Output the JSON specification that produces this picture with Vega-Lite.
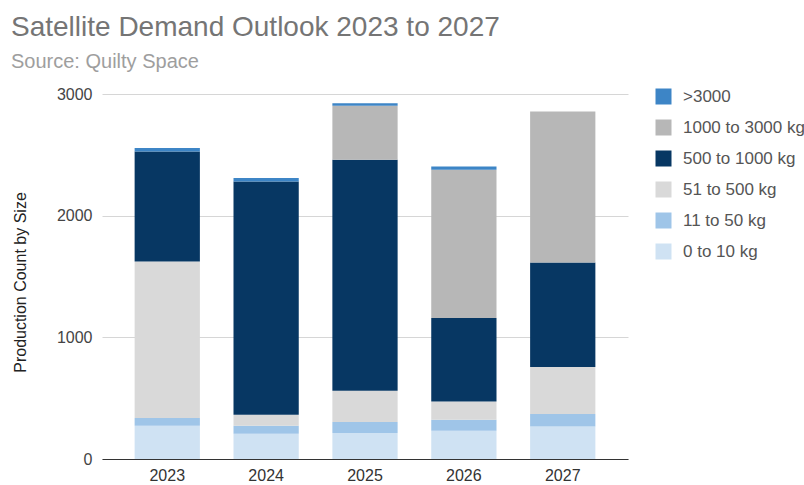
{
  "$schema": "https://vega.github.io/schema/vega-lite/v6.json",
  "autosize": "none",
  "width": 526,
  "height": 365,
  "padding": {"left": 102, "top": 94, "right": 176, "bottom": 26},
  "background": "white",
  "title": {
    "text": "Satellite Demand Outlook 2023 to 2027",
    "subtitle": "Source: Quilty Space",
    "anchor": "start",
    "frame": "group",
    "dx": -91,
    "offset": 14,
    "font": "Liberation Sans",
    "fontSize": 28,
    "fontWeight": "normal",
    "color": "#757575",
    "subtitleFont": "Liberation Sans",
    "subtitleFontSize": 20,
    "subtitleColor": "#9e9e9e",
    "subtitlePadding": 10
  },
  "data": {
    "values": [
      {"year": "2023", "size": "0 to 10 kg", "ord": 1, "count": 274},
      {"year": "2023", "size": "11 to 50 kg", "ord": 2, "count": 63},
      {"year": "2023", "size": "51 to 500 kg", "ord": 3, "count": 1287},
      {"year": "2023", "size": "500 to 1000 kg", "ord": 4, "count": 903},
      {"year": "2023", "size": "1000 to 3000 kg", "ord": 5, "count": 0},
      {"year": "2023", "size": ">3000", "ord": 6, "count": 29},
      {"year": "2024", "size": "0 to 10 kg", "ord": 1, "count": 208},
      {"year": "2024", "size": "11 to 50 kg", "ord": 2, "count": 66},
      {"year": "2024", "size": "51 to 500 kg", "ord": 3, "count": 90},
      {"year": "2024", "size": "500 to 1000 kg", "ord": 4, "count": 1917},
      {"year": "2024", "size": "1000 to 3000 kg", "ord": 5, "count": 0},
      {"year": "2024", "size": ">3000", "ord": 6, "count": 28},
      {"year": "2025", "size": "0 to 10 kg", "ord": 1, "count": 214},
      {"year": "2025", "size": "11 to 50 kg", "ord": 2, "count": 90},
      {"year": "2025", "size": "51 to 500 kg", "ord": 3, "count": 257},
      {"year": "2025", "size": "500 to 1000 kg", "ord": 4, "count": 1898},
      {"year": "2025", "size": "1000 to 3000 kg", "ord": 5, "count": 444},
      {"year": "2025", "size": ">3000", "ord": 6, "count": 22},
      {"year": "2026", "size": "0 to 10 kg", "ord": 1, "count": 233},
      {"year": "2026", "size": "11 to 50 kg", "ord": 2, "count": 90},
      {"year": "2026", "size": "51 to 500 kg", "ord": 3, "count": 150},
      {"year": "2026", "size": "500 to 1000 kg", "ord": 4, "count": 686},
      {"year": "2026", "size": "1000 to 3000 kg", "ord": 5, "count": 1218},
      {"year": "2026", "size": ">3000", "ord": 6, "count": 27},
      {"year": "2027", "size": "0 to 10 kg", "ord": 1, "count": 268},
      {"year": "2027", "size": "11 to 50 kg", "ord": 2, "count": 102},
      {"year": "2027", "size": "51 to 500 kg", "ord": 3, "count": 386},
      {"year": "2027", "size": "500 to 1000 kg", "ord": 4, "count": 859},
      {"year": "2027", "size": "1000 to 3000 kg", "ord": 5, "count": 1241},
      {"year": "2027", "size": ">3000", "ord": 6, "count": 0}
    ]
  },
  "mark": {"type": "bar"},
  "encoding": {
    "x": {
      "field": "year",
      "type": "nominal",
      "scale": {"paddingInner": 0.34, "paddingOuter": 0.33},
      "axis": {
        "title": null,
        "labelAngle": 0,
        "labelFont": "Liberation Sans",
        "labelFontSize": 16,
        "labelColor": "#333333",
        "labelPadding": 8,
        "ticks": false,
        "domainColor": "#333333",
        "domainWidth": 1,
        "grid": false
      }
    },
    "y": {
      "field": "count",
      "type": "quantitative",
      "stack": "zero",
      "scale": {"domain": [0, 3000], "nice": false},
      "axis": {
        "title": "Production Count by Size",
        "titleFont": "Liberation Sans",
        "titleFontSize": 16,
        "titleFontWeight": "normal",
        "titleColor": "#222222",
        "titlePadding": 28,
        "titleY": 188,
        "values": [0, 1000, 2000, 3000],
        "labelFont": "Liberation Sans",
        "labelFontSize": 16,
        "labelColor": "#444444",
        "labelPadding": 10,
        "ticks": false,
        "domain": false,
        "gridColor": "#d6d6d6",
        "format": "d"
      }
    },
    "color": {
      "field": "size",
      "type": "nominal",
      "scale": {
        "domain": [">3000", "1000 to 3000 kg", "500 to 1000 kg", "51 to 500 kg", "11 to 50 kg", "0 to 10 kg"],
        "range": ["#3d85c6", "#b7b7b7", "#073763", "#d9d9d9", "#9fc5e8", "#cfe2f3"]
      },
      "legend": {
        "title": null,
        "orient": "none",
        "legendX": 553,
        "legendY": -6,
        "symbolType": "square",
        "symbolSize": 256,
        "symbolStrokeWidth": 0,
        "labelFont": "Liberation Sans",
        "labelFontSize": 17,
        "labelColor": "#555555",
        "labelOffset": 11,
        "labelLimit": 200,
        "rowPadding": 13
      }
    },
    "order": {"field": "ord", "type": "quantitative", "sort": "ascending"}
  },
  "config": {
    "view": {"stroke": null}
  }
}
